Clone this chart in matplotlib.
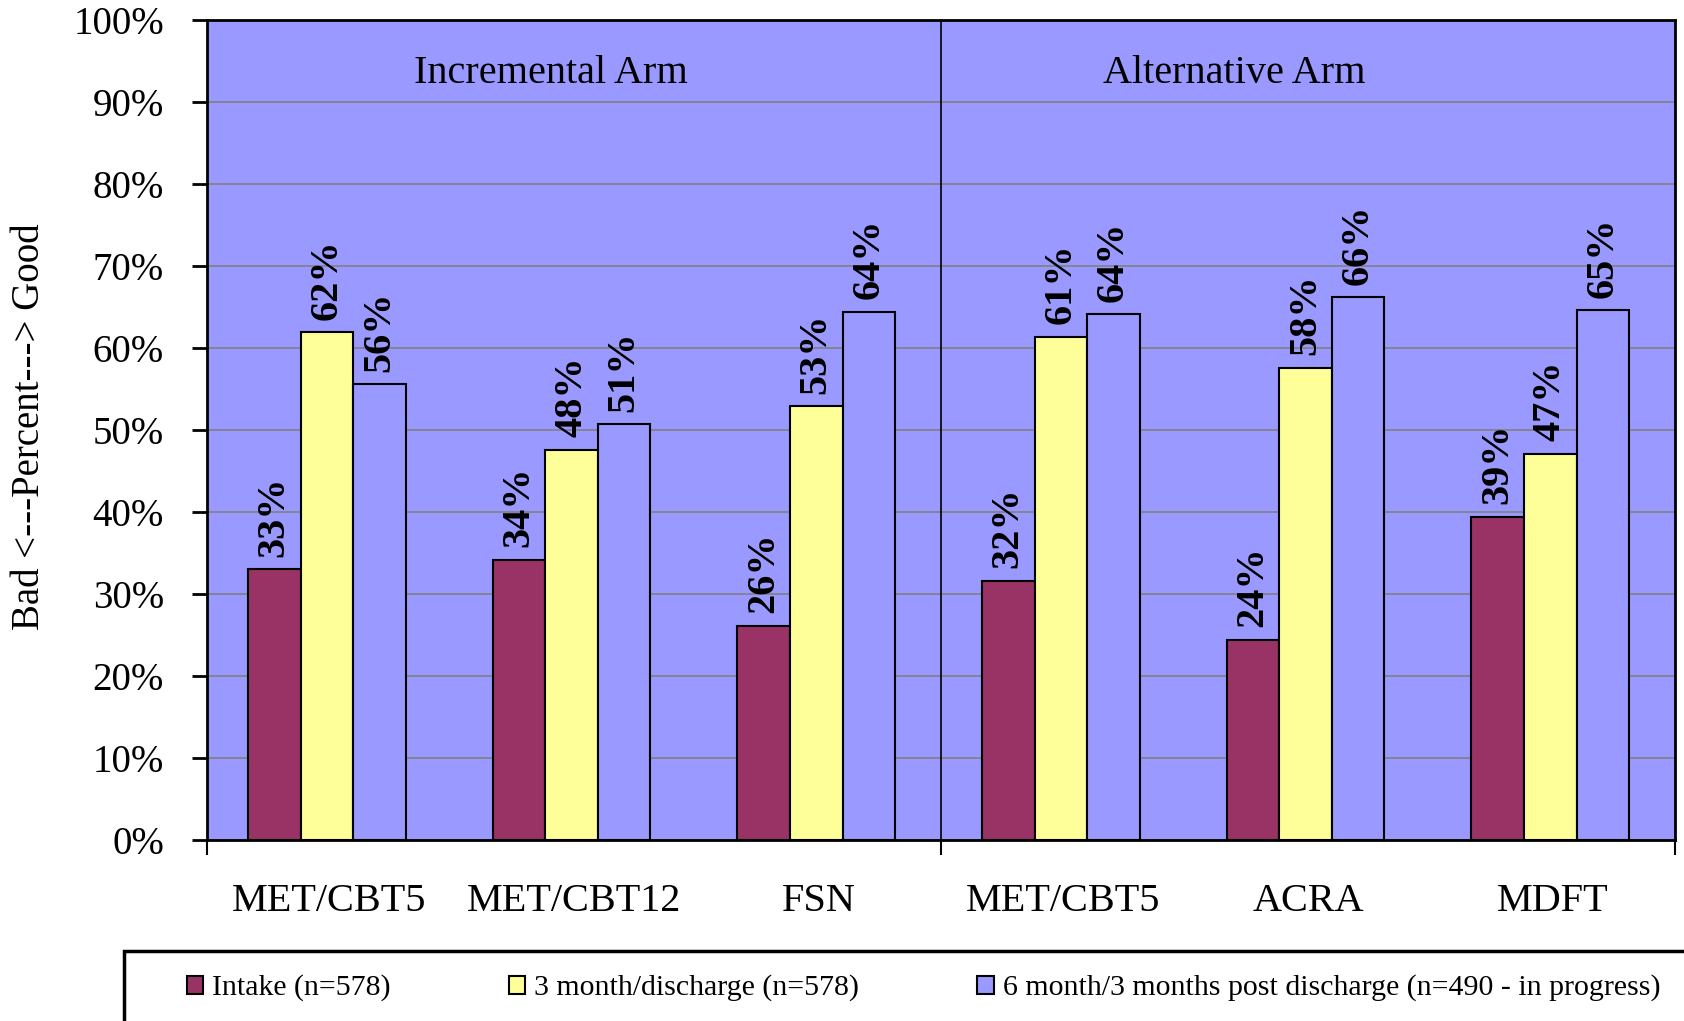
import matplotlib
matplotlib.use("Agg")
import matplotlib.pyplot as plt
import numpy as np
from matplotlib.patches import Rectangle

plt.rcParams["font.family"] = ["Liberation Serif", "DejaVu Serif"]

# Outcome shares (%) per treatment condition
conditions = ["MET/CBT5", "MET/CBT12", "FSN", "MET/CBT5", "ACRA", "MDFT"]
arms = ["Incremental Arm", "Alternative Arm"]
intake = [33.0, 34.2, 26.1, 31.6, 24.4, 39.4]
three_month = [61.9, 47.6, 52.9, 61.4, 57.6, 47.1]
six_month = [55.6, 50.7, 64.4, 64.1, 66.2, 64.6]
series_names = [
    "Intake (n=578)",
    "3 month/discharge (n=578)",
    "6 month/3 months post discharge (n=490 - in progress)",
]
yticks = np.arange(0, 101, 10)

colors = ["#993366", "#FFFF99", "#9999FF"]
bg = "#9999FF"

fig = plt.figure(figsize=(16.84, 10.21), dpi=100)
ax = fig.add_axes([207 / 1684, 1 - 840 / 1021, 1468 / 1684, 820 / 1021])
ax.set_facecolor(bg)

x = np.arange(len(conditions))
bar_w = 0.215
handles = []
for i, (vals, col) in enumerate(zip([intake, three_month, six_month], colors)):
    bars = ax.bar(x - 0.01 + (i - 1) * bar_w, vals, bar_w, color=col,
                  edgecolor="black", linewidth=1.5, zorder=3)
    handles.append(bars)
    for bar, v in zip(bars, vals):
        ax.annotate(f"{v:.0f}%",
                    (bar.get_x() + bar.get_width() / 2, bar.get_height()),
                    xytext=(0, 9), textcoords="offset points",
                    rotation=90, ha="center", va="bottom",
                    fontsize=29, fontweight="bold", zorder=4)

# arm divider and arm titles
ax.axvline(2.5, color="black", linewidth=1.2, zorder=2)
ax.text(0.906, 93.5, arms[0], ha="center", va="center", fontsize=29)
ax.text(3.70, 93.5, arms[1], ha="center", va="center", fontsize=29)

ax.set_xlim(-0.5, 5.5)
ax.set_ylim(0, 100)
ax.set_yticks(yticks)
ax.set_yticklabels([f"{t}%" for t in yticks], fontsize=28)
ax.yaxis.grid(True, color="#808080", linewidth=1.2, zorder=1)
ax.set_axisbelow(True)
ax.tick_params(axis="y", length=11, width=2, pad=20)

ax.set_xticks([-0.5, 2.5, 5.5])
ax.set_xticklabels([])
ax.set_xticks(x, minor=True)
ax.set_xticklabels(conditions, minor=True, fontsize=29)
ax.tick_params(axis="x", which="major", length=11, width=1.5)
ax.tick_params(axis="x", which="minor", length=0, pad=31)

for side in ["left", "top", "right", "bottom"]:
    ax.spines[side].set_linewidth(2)

fig.text(30 / 1684, 1 - 427 / 1021, "Bad <---Percent---> Good", rotation=90,
         ha="center", va="center", fontsize=28)

# legend box runs off the right and bottom edges
fig.patches.append(Rectangle((124 / 1684, -0.05), 1.0, 0.05 + (1021 - 951) / 1021,
                             transform=fig.transFigure, facecolor="white",
                             edgecolor="black", linewidth=2.5))
leg = fig.legend(handles, series_names, loc="center left", ncol=3,
                 bbox_to_anchor=(175 / 1684, 1 - 988 / 1021), frameon=False,
                 fontsize=21.5, handlelength=0.55, handleheight=0.55,
                 handletextpad=0.3, columnspacing=3.95, borderaxespad=0)

fig.savefig("out.png", dpi=100)
